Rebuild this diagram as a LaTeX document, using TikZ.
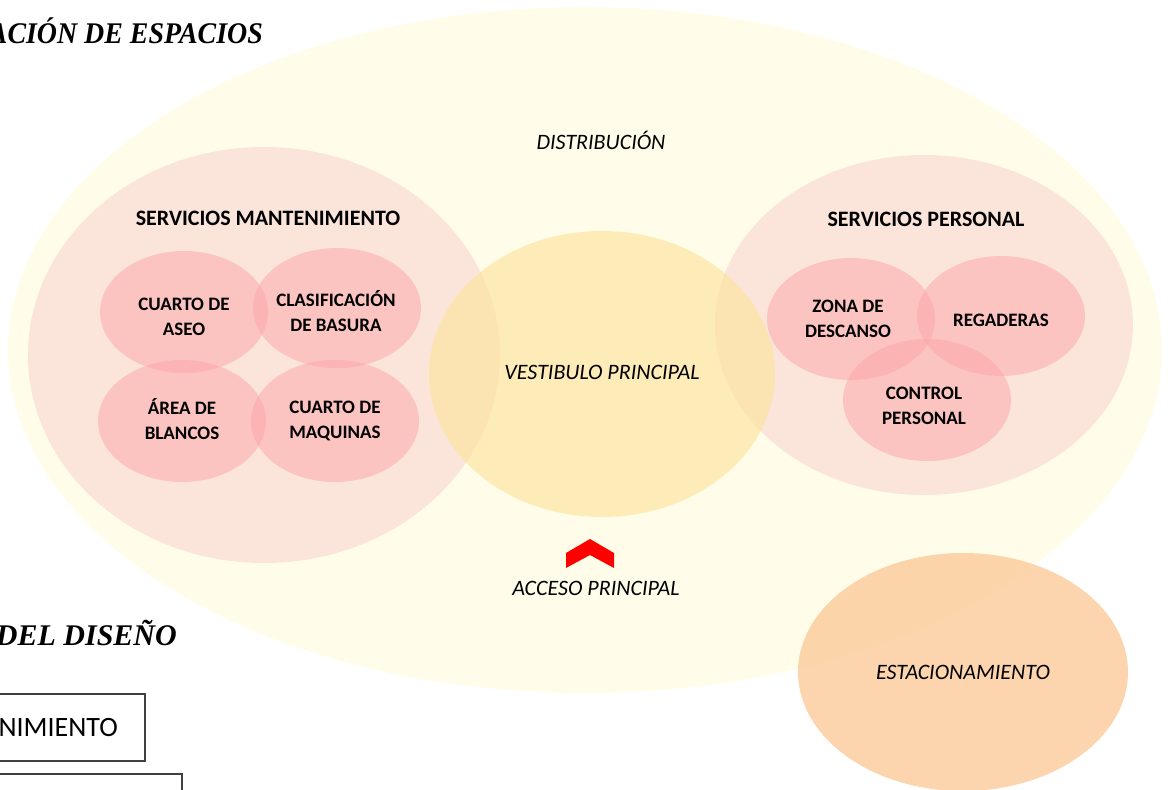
\documentclass[tikz,border=0pt]{standalone}
\usepackage{fontspec}
\setmainfont{Carlito}
\newfontfamily\titlefont{Liberation Serif}
\usetikzlibrary{shapes.geometric}
\definecolor{distcol}{RGB}{255,253,233}
\definecolor{bigpink}{RGB}{245,195,198}
\definecolor{smallpink}{RGB}{251,164,167}
\definecolor{vestcol}{RGB}{252,226,151}
\definecolor{estcol}{RGB}{251,202,154}
\definecolor{boxline}{RGB}{64,64,64}
\tikzset{
  zone/.style={ellipse, inner sep=0pt},
  bigzone/.style={zone, fill=bigpink, fill opacity=0.4},
  room/.style={zone, fill=smallpink, fill opacity=0.5, minimum width=168pt, minimum height=122pt},
  roomtext/.style={align=center, font=\bfseries\fontsize{19}{25}\selectfont},
  head/.style={font=\bfseries\fontsize{22}{26}\selectfont},
  itlabel/.style={font=\itshape\fontsize{22}{26}\selectfont},
  titletext/.style={font=\titlefont\bfseries\itshape\fontsize{30}{36}\selectfont, inner sep=0pt},
  framebox/.style={draw=boxline, line width=1.6pt}
}
\begin{document}
\begin{tikzpicture}[x=1pt,y=-1pt]
\useasboundingbox (0,0) rectangle (1168,790);
% big distribution ellipse
\node[zone, fill=distcol, minimum width=1154pt, minimum height=686pt] (dist) at (585,350) {};
% group ellipses
\node[bigzone, minimum width=472pt, minimum height=416pt] (mant) at (264,355) {};
\node[bigzone, minimum width=418pt, minimum height=340pt] (pers) at (924,325) {};
% vestibule
\node[zone, fill=vestcol, fill opacity=0.6, minimum width=346pt, minimum height=286pt] (vest) at (602,374) {};
% rooms maintenance
\node[room] (aseo) at (184,312) {};
\node[room, minimum height=120pt] (clas) at (337,308) {};
\node[room] (blan) at (182,421) {};
\node[room] (maq) at (335,421) {};
% rooms personal
\node[room] (desc) at (851,319) {};
\node[room, minimum height=120pt] (rega) at (1001,316) {};
\node[room] (ctrl) at (927,400) {};
% parking
\node[zone, fill=estcol, fill opacity=0.8, minimum width=330pt, minimum height=238pt] (est) at (963,672) {};
% room texts
\node[roomtext] (aseo-t) at (184,317) {CUARTO DE\\ASEO};
\node[roomtext] (clas-t) at (336,311) {CLASIFICACIÓN\\DE BASURA};
\node[roomtext] (blan-t) at (182,419) {ÁREA DE\\BLANCOS};
\node[roomtext] (maq-t) at (335,421) {CUARTO DE\\MAQUINAS};
\node[roomtext] (desc-t) at (848,319) {ZONA DE\\DESCANSO};
\node[roomtext] (rega-t) at (1001,320) {REGADERAS};
\node[roomtext] (ctrl-t) at (924,406) {CONTROL\\PERSONAL};
% labels
\node[itlabel] (vest-t) at (602,372) {VESTIBULO PRINCIPAL};
\node[itlabel] (est-t) at (963,672) {ESTACIONAMIENTO};
\node[itlabel] (distlbl) at (601,140) {DISTRIBUCIÓN};
\node[head] (mantlbl) at (268,218) {SERVICIOS MANTENIMIENTO};
\node[head] (perslbl) at (926,219) {SERVICIOS PERSONAL};
\node[itlabel] (acc) at (596,588) {ACCESO PRINCIPAL};
% access chevron
\fill[red] (590,539) -- (614,553) -- (614,568) -- (590,555) -- (566,568) -- (566,553) -- cycle;
% titles
\node[titletext, anchor=base east, xscale=0.93, transform shape] (t1) at (263,43) {ACIÓN DE ESPACIOS};
\node[titletext, anchor=base east] (t2) at (177,645) {DEL DISEÑO};
% bottom-left boxes
\draw[framebox] (-5,694) rectangle (145,761);
\node[font=\fontsize{28}{32}\selectfont, anchor=east, inner sep=0pt] (box1) at (118,728) {NIMIENTO};
\draw[framebox] (-5,774) rectangle (182,800);
\end{tikzpicture}
\end{document}
